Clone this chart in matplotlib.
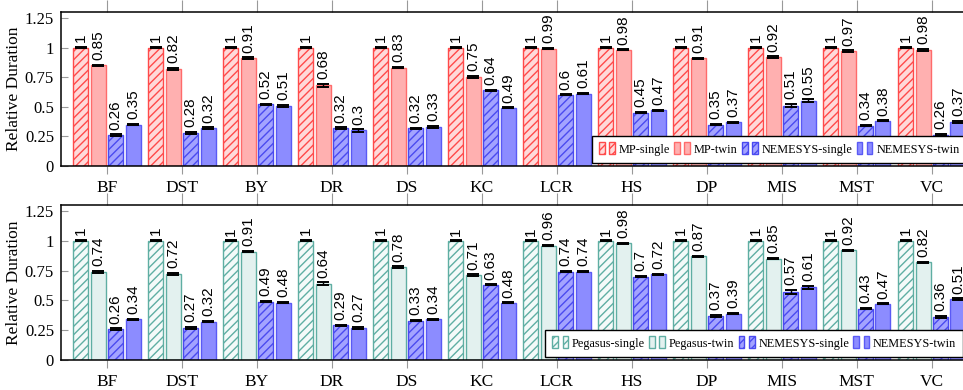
#!/usr/bin/env python3

import numpy as np
import matplotlib
matplotlib.use('Agg')
import matplotlib.pyplot as plt
from matplotlib.patches import Patch, Rectangle
from matplotlib.legend_handler import HandlerBase

categories = ['BF', 'DST', 'BY', 'DR', 'DS', 'KC', 'LCR', 'HS', 'DP', 'MIS', 'MST', 'VC']

# top panel: MP vs NEMESYS
mp_single = [1, 1, 1, 1, 1, 1, 1, 1, 1, 1, 1, 1]
mp_twin = [0.85, 0.82, 0.91, 0.68, 0.83, 0.75, 0.99, 0.98, 0.91, 0.92, 0.97, 0.98]
nem_single_mp = [0.26, 0.28, 0.52, 0.32, 0.32, 0.64, 0.6, 0.45, 0.35, 0.51, 0.34, 0.26]
nem_twin_mp = [0.35, 0.32, 0.51, 0.3, 0.33, 0.49, 0.61, 0.47, 0.37, 0.55, 0.38, 0.37]

# bottom panel: Pegasus vs NEMESYS
peg_single = [1, 1, 1, 1, 1, 1, 1, 1, 1, 1, 1, 1]
peg_twin = [0.74, 0.72, 0.91, 0.64, 0.78, 0.71, 0.96, 0.98, 0.87, 0.85, 0.92, 0.82]
nem_single_peg = [0.26, 0.27, 0.49, 0.29, 0.33, 0.63, 0.74, 0.7, 0.37, 0.57, 0.43, 0.36]
nem_twin_peg = [0.34, 0.32, 0.48, 0.27, 0.34, 0.48, 0.74, 0.72, 0.39, 0.61, 0.47, 0.51]

# error bars (small)
err_mp = [
    [0.005, 0.005, 0.005, 0.005, 0.005, 0.005, 0.004, 0.004, 0.005, 0.005, 0.005, 0.008],
    [0.006, 0.006, 0.006, 0.012, 0.006, 0.008, 0.004, 0.005, 0.005, 0.006, 0.005, 0.006],
    [0.006, 0.006, 0.004, 0.006, 0.004, 0.004, 0.004, 0.006, 0.006, 0.014, 0.005, 0.01],
    [0.006, 0.006, 0.008, 0.01, 0.006, 0.004, 0.006, 0.005, 0.005, 0.012, 0.004, 0.008],
]
err_peg = [
    [0.005, 0.005, 0.004, 0.005, 0.005, 0.004, 0.004, 0.004, 0.005, 0.005, 0.004, 0.005],
    [0.006, 0.008, 0.006, 0.012, 0.006, 0.008, 0.004, 0.004, 0.005, 0.006, 0.004, 0.005],
    [0.006, 0.008, 0.006, 0.006, 0.004, 0.005, 0.005, 0.005, 0.008, 0.016, 0.005, 0.008],
    [0.005, 0.005, 0.006, 0.006, 0.004, 0.004, 0.005, 0.004, 0.005, 0.014, 0.004, 0.006],
]

serif = 'Liberation Serif'
plt.rcParams['font.family'] = serif
plt.rcParams['hatch.linewidth'] = 1.0

styles_mp = [
    dict(label='MP-single', fc='#ffd9d9', ec='#ff4a4a', hatch='////'),
    dict(label='MP-twin', fc='#ffb0b0', ec='#ff6b6b', hatch=None),
    dict(label='NEMESYS-single', fc='#a3a3ff', ec='#4a4af0', hatch='////'),
    dict(label='NEMESYS-twin', fc='#8c8cff', ec='#5a5af5', hatch=None),
]
styles_peg = [
    dict(label='Pegasus-single', fc='#f4faf9', ec='#5fae a3'.replace(' ', ''), hatch='////'),
    dict(label='Pegasus-twin', fc='#e3f1ef', ec='#5faea3', hatch=None),
    dict(label='NEMESYS-single', fc='#a3a3ff', ec='#4a4af0', hatch='////'),
    dict(label='NEMESYS-twin', fc='#8c8cff', ec='#5a5af5', hatch=None),
]


class TwoBars(HandlerBase):
    def create_artists(self, legend, orig_handle, xdescent, ydescent,
                       width, height, fontsize, trans):
        w = width * 0.36
        arts = []
        for x0 in (0, width - w):
            r = Rectangle((x0 - xdescent, -ydescent - height * 0.2), w, height * 1.4)
            self.update_prop(r, orig_handle, legend)
            r.set_transform(trans)
            arts.append(r)
        return arts


def panel(ax, series, errs, styles, leg_x):
    x = np.arange(len(categories))
    bw = 0.2
    step = 0.233
    handles = []
    for i, (vals, e, st) in enumerate(zip(series, errs, styles)):
        off = (i - 1.5) * step
        ax.bar(x + off, vals, width=bw, color=st['fc'], edgecolor=st['ec'],
               hatch=st['hatch'], linewidth=1.0, yerr=e, zorder=2,
               error_kw=dict(ecolor='black', elinewidth=1.0, capsize=4, capthick=1.4, zorder=3))
        for xi, v, ei in zip(x + off, vals, e):
            ax.text(xi, v + ei + 0.04, f'{v:g}', rotation=90, ha='center', va='bottom',
                    fontsize=11, family='Liberation Sans', clip_on=False, zorder=4)
        handles.append(Patch(facecolor=st['fc'], edgecolor=st['ec'], hatch=st['hatch'],
                             linewidth=1.0, label=st['label']))

    ax.set_xlim(-0.613, len(categories) - 1 + 0.613)
    ax.set_ylim(0, 1.3)
    ax.set_xticks(x)
    ax.set_xticklabels(categories, fontsize=12.5)
    ax.set_yticks([0, 0.25, 0.5, 0.75, 1, 1.25])
    ax.set_yticklabels(['0', '0.25', '0.5', '0.75', '1', '1.25'], fontsize=12)
    ax.tick_params(axis='x', direction='out', length=6, color='#999999', pad=4)
    ax.tick_params(axis='y', direction='in', length=5, color='#999999', pad=5)
    top = ax.secondary_xaxis('top')
    top.set_xticks(x)
    top.tick_params(direction='out', length=9, color='#999999', labeltop=False)
    top.spines['top'].set_visible(False)
    for s in ax.spines.values():
        s.set_linewidth(1.1)
    ax.spines['right'].set_visible(False)
    ax.set_ylabel('Relative Duration', fontsize=12.5, labelpad=2)

    leg = ax.legend(handles=handles, loc='lower left', bbox_to_anchor=(leg_x, 0.02),
                    ncol=4, fontsize=8.8, frameon=True, fancybox=False,
                    handler_map={Patch: TwoBars()}, handlelength=1.3,
                    handletextpad=0.3, columnspacing=0.35, borderpad=0.6,
                    borderaxespad=0.0)
    leg.get_frame().set_edgecolor('black')
    leg.get_frame().set_linewidth(1.0)
    leg.get_frame().set_alpha(1.0)
    leg.set_zorder(10)


fig = plt.figure(figsize=(9.63, 3.9), dpi=100)
ax1 = fig.add_axes([0.0633, 0.5744, 0.952, 0.3949])
ax2 = fig.add_axes([0.0633, 0.0769, 0.952, 0.3974])

panel(ax1, [mp_single, mp_twin, nem_single_mp, nem_twin_mp], err_mp, styles_mp, 0.579)
panel(ax2, [peg_single, peg_twin, nem_single_peg, nem_twin_peg], err_peg, styles_peg, 0.528)

fig.savefig('out.png', dpi=100)
